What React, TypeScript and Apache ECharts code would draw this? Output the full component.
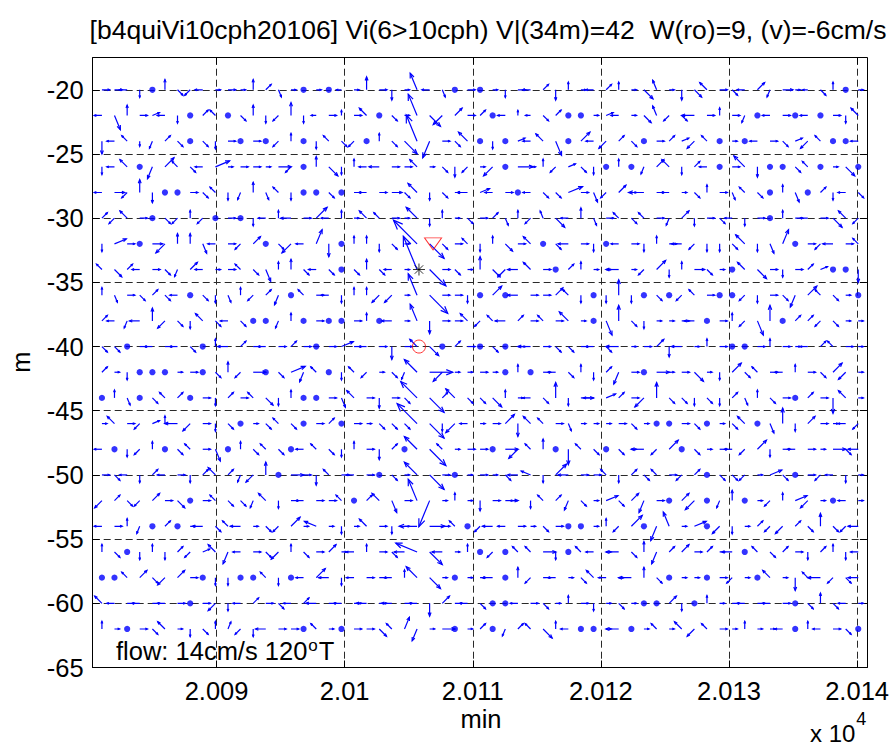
import React, { useEffect, useRef } from 'react';
import * as echarts from 'echarts';

// ---------- texts ----------
const TITLE_TEXT = '[b4quiVi10cph20106] Vi(6>10cph) V|(34m)=42  W(ro)=9, (v)=-6cm/s';
const X_LABEL = 'min';
const Y_LABEL = 'm';
const X_EXP_BASE = 'x 10';
const X_EXP = '4';
const FLOW_TEXT = 'flow: 14cm/s 120';
const FLOW_SUP = 'o';
const FLOW_END = 'T';

// ---------- axes ----------
const xRange = [20080.33, 20140.76];
const yRange = [-65, -17.5];
const xTickValues = [20090, 20100, 20110, 20120, 20130, 20140];
const yTickValues = [-65, -60, -55, -50, -45, -40, -35, -30, -25, -20];

// ---------- sampling grid ----------
const sampleTimes = [
  20081.05, 20082.03, 20083.02, 20084.0, 20084.99, 20085.97, 20086.95, 20087.94, 20088.92, 20089.91,
  20090.89, 20091.87, 20092.86, 20093.84, 20094.83, 20095.81, 20096.79, 20097.78, 20098.76, 20099.75,
  20100.73, 20101.71, 20102.7, 20103.68, 20104.67, 20105.65, 20106.63, 20107.62, 20108.6, 20109.59,
  20110.57, 20111.55, 20112.54, 20113.52, 20114.51, 20115.49, 20116.47, 20117.46, 20118.44, 20119.43,
  20120.41, 20121.39, 20122.38, 20123.36, 20124.35, 20125.33, 20126.31, 20127.3, 20128.28, 20129.27,
  20130.25, 20131.23, 20132.22, 20133.2, 20134.19, 20135.17, 20136.15, 20137.14, 20138.12, 20139.11,
  20140.09,
];
const depths = [-20, -22, -24, -26, -28, -30, -32, -34, -36, -38, -40, -42, -44, -46, -48, -50, -52, -54, -56, -58, -60, -62];

// Each token: first char = direction (hex, 22.5 deg steps clockwise from north),
// second char = length class (base 36); ".." = still point (dot).
// Arrow length in data units = (class + 1) * LEN_UNIT.
const LEN_UNIT = 0.2;
const rowCodes = [
  '42 42 c2 82 .. 03 62 a2 c2 41 42 41 03 22 72 41 .. 41 .. c1 41 04 42 83 41 f6 c2 72 .. 42 .. 41 82 42 c2 22 83 02 41 c2 22 02 41 64 f3 41 83 63 e3 42 62 c2 23 92 43 41 c1 62 02 .. 41',
  'c2 75 03 42 32 c2 82 .. 22 e2 .. 62 03 82 a2 04 82 c1 42 01 42 e3 .. 62 41 f8 65 a4 23 42 22 .. c2 01 c1 62 22 .. .. 41 32 c2 41 63 f3 a2 62 c4 42 02 42 92 .. c2 42 .. c2 .. 42 82 e3',
  '84 c2 e2 81 92 22 62 .. 62 82 42 .. 42 .. a2 02 .. 82 e2 62 a2 .. 02 62 66 fa 96 42 62 e4 .. 82 .. 32 c2 e3 75 .. 24 c2 a3 22 62 .. 42 22 32 a3 e2 .. 41 .. c2 42 62 32 a3 e2 .. .. c2',
  '82 c2 e3 .. 94 24 e2 62 c2 35 41 42 42 41 44 a2 .. 03 64 82 02 c2 c3 42 42 e3 41 62 83 a2 41 a4 .. 45 41 02 a2 32 62 82 .. 02 .. 92 23 e3 82 22 c2 .. 42 e5 83 .. .. 62 e2 .. 41 64 ..',
  'c2 43 a2 04 83 .. .. 42 62 e2 82 92 03 72 e2 82 .. .. 62 .. 42 c2 42 43 62 e4 82 62 41 c3 33 c2 42 .. c2 62 62 35 42 73 a2 23 41 c5 42 c2 41 62 02 42 72 e2 62 .. 02 73 .. 22 82 c2 62',
  '22 a2 e3 42 .. 62 a2 02 a2 .. 42 .. 82 c2 02 c3 42 25 c2 02 41 e3 e2 42 41 e5 82 02 41 62 42 22 72 02 a2 f2 64 c2 03 72 42 e2 62 e2 42 92 23 82 42 62 c2 82 42 .. 02 42 c2 42 64 e3 a2',
  '82 34 42 .. 43 a4 03 03 73 c2 42 a2 23 .. 62 a4 c2 15 84 .. 02 02 82 62 41 ec 67 62 42 e2 82 02 63 42 e3 .. 62 c3 42 82 .. c2 42 82 02 42 c3 a2 82 82 62 e4 82 73 15 .. 42 a2 c3 42 e2',
  'e2 63 22 c2 42 62 92 23 c2 41 42 e2 62 74 02 03 62 c2 62 .. 62 03 62 c2 41 fd 68 42 62 41 04 63 a3 c3 e3 42 .. 22 02 41 41 c4 41 a2 24 82 02 43 62 41 .. e3 64 42 82 42 22 32 .. .. 84',
  '02 72 42 62 22 62 c2 .. 62 82 72 02 a2 22 93 .. e2 42 c2 82 02 02 a3 a3 41 f8 69 42 42 82 .. 24 .. c3 42 42 23 e2 82 .. 82 05 82 .. 62 .. a2 e2 42 .. .. a2 82 42 62 94 24 e2 62 41 ..',
  '22 c2 92 c3 04 a3 62 82 e3 62 c2 62 .. .. 92 02 .. 42 .. .. 42 02 .. c3 41 f6 84 42 42 e3 a2 e2 c3 22 42 e2 42 e4 41 .. 75 05 62 82 41 41 42 c3 .. 42 02 a2 75 05 .. 22 22 a2 62 41 41',
  '62 62 .. 42 c2 42 c2 62 .. 02 c3 22 42 c2 42 22 42 .. 42 34 42 c2 42 84 42 e3 64 .. 22 42 .. 62 .. 42 c4 42 62 62 42 c2 62 c4 41 42 23 83 c3 41 02 42 .. .. 42 02 42 41 c2 22 e2 42 41',
  '22 41 82 .. .. .. 41 42 .. 62 03 a2 44 .. 62 35 93 e2 .. 82 e2 a2 41 62 92 e6 48 a4 41 41 42 41 .. 02 .. 42 c2 62 02 82 22 94 42 .. 44 41 42 64 41 82 24 62 e2 42 c2 02 42 62 24 a3 41',
  '.. 02 72 .. 62 e2 22 .. 42 82 22 42 e2 63 82 02 .. .. 42 73 e3 42 83 42 62 e8 67 22 e4 62 62 64 02 41 c2 62 05 82 44 c3 33 22 42 a4 05 62 62 82 62 82 22 72 02 62 42 .. 22 42 85 e3 41',
  '41 e3 42 a2 32 02 c4 a3 42 82 62 .. 41 62 e2 62 .. 42 22 .. 42 41 62 62 62 ea 67 82 a4 c2 41 42 24 84 e3 e2 42 72 41 41 41 42 62 41 .. .. 42 62 .. 41 62 e3 .. 73 05 82 23 42 41 c2 a2',
  'c2 .. 82 a2 02 .. 62 e2 42 74 .. 02 62 e2 62 .. c2 e2 62 82 02 42 83 22 .. e6 68 e2 41 42 42 .. 44 a4 e2 03 .. 85 e2 62 .. 62 41 c4 a2 24 .. 62 41 42 c2 a2 24 82 42 c2 42 41 44 62 c3',
  '42 62 c2 82 22 c2 42 82 22 e3 22 92 a3 04 .. 44 42 83 e2 42 c2 42 .. 62 41 e6 67 42 .. 41 42 41 62 c3 d3 82 25 c3 42 42 e2 82 22 62 e2 42 a2 22 .. 62 62 a2 41 34 62 .. 42 a2 c2 82 41',
  'a3 22 62 a2 23 42 63 .. 42 e2 62 62 92 e3 82 42 c2 42 42 e2 .. 22 e3 74 42 f8 9a 41 02 41 83 42 44 c2 82 e2 22 93 62 41 34 62 23 94 42 .. 23 a4 .. 92 03 .. 41 a2 02 34 a3 41 .. c2 41',
  'c2 42 02 92 .. 22 .. 41 c3 62 e2 c3 41 62 a2 24 41 d4 41 82 41 e3 42 82 41 c6 45 42 e2 .. a2 c3 c2 42 41 62 42 .. .. 41 02 a2 25 .. 95 f5 41 34 .. a3 82 41 22 a2 a3 22 62 04 62 a2 c3',
  '02 62 .. 82 02 82 22 a2 32 e3 94 c2 42 62 a3 02 62 42 23 41 c2 02 42 62 c3 d8 66 c3 41 02 .. a2 .. e2 e2 44 82 .. e2 c2 41 c4 62 03 94 22 23 42 22 41 c3 .. e2 62 22 42 82 22 02 82 c2',
  '.. .. e2 23 62 a3 23 42 .. 82 82 .. .. e2 82 .. c2 24 c3 82 c2 42 42 c2 02 e5 65 41 .. 41 41 c3 .. 03 a2 42 c2 41 62 e3 c2 41 c4 03 62 .. 41 41 .. 42 a2 41 .. e3 41 84 e2 c4 a2 62 c3',
  'e3 c2 42 c2 42 c2 42 .. 42 a3 82 c2 22 42 62 c2 22 c3 42 c2 42 c3 42 c3 42 c2 84 23 42 c2 62 .. .. c2 42 62 41 02 42 82 41 62 41 .. .. 23 82 .. 02 41 42 c2 42 c2 42 .. 62 03 62 c2 41',
  '02 41 .. 42 62 e3 41 82 62 02 12 a2 82 c3 42 42 .. e2 41 .. 42 42 63 e2 14 94 41 44 .. 41 22 .. 92 22 e2 64 02 c2 .. .. 41 c4 .. 41 e2 41 e3 a3 e2 42 41 02 41 41 c2 .. 02 c2 42 62 ..',
];

// ---------- special markers ----------
const triangleMarker = [[20106.9, -32]];
const starMarker = [[20105.8, -34]];
const circleMarker = [[20105.8, -40]];

const FONT = '"Liberation Sans", Arial, Helvetica, sans-serif';
const BLUE = '#0000ff';

function decodeField() {
  const arrows: number[][] = [];
  const dots: number[][] = [];
  rowCodes.forEach((row, j) => {
    const toks = row.trim().split(/\s+/);
    toks.forEach((t, k) => {
      if (k >= sampleTimes.length) return;
      const x = sampleTimes[k];
      const y = depths[j];
      if (t === '..') {
        dots.push([x, y]);
        return;
      }
      const dir = (parseInt(t[0], 16) * 22.5 * Math.PI) / 180;
      const len = (parseInt(t[1], 36) + 1) * LEN_UNIT;
      arrows.push([x, y, len * Math.sin(dir), len * Math.cos(dir)]);
    });
  });
  return { arrows, dots };
}

function measure(text: string, size: number) {
  const ctx = document.createElement('canvas').getContext('2d');
  if (!ctx) return text.length * size * 0.5;
  ctx.font = `${size}px ${FONT}`;
  return ctx.measureText(text).width;
}

function txt(text: string, x: number, y: number, size: number, align: string, extra: any = {}) {
  return {
    type: 'text',
    x,
    y,
    silent: true,
    ...extra,
    style: {
      text,
      fill: '#000',
      fontSize: size,
      fontFamily: FONT,
      align,
      textAlign: align,
      verticalAlign: 'middle',
      textVerticalAlign: 'middle',
    },
  };
}

export default function App() {
  const ref = useRef<HTMLDivElement>(null);

  useEffect(() => {
    if (!ref.current) return;
    const chart = echarts.init(ref.current, null, { renderer: 'svg' });
    const { arrows, dots } = decodeField();

    const flowX = 116;
    const flowW = measure(FLOW_TEXT, 25.5);
    const supW = measure(FLOW_SUP, 17);
    const expW = measure(X_EXP_BASE, 24);

    const axisCommon = {
      type: 'value',
      axisLine: { show: true, onZero: false, lineStyle: { color: '#000', width: 1 } },
      axisTick: { show: true, inside: true, length: 7, lineStyle: { color: '#000', width: 1 } },
    };

    const option: any = {
      animation: false,
      backgroundColor: '#fff',
      grid: { left: 92.7, top: 57.7, width: 776.6, height: 609.8 },
      xAxis: [
        {
          ...axisCommon,
          position: 'bottom',
          min: xRange[0],
          max: xRange[1],
          axisTick: { ...axisCommon.axisTick, customValues: xTickValues },
          axisLabel: {
            customValues: xTickValues,
            formatter: (v: number) => String(parseFloat((v / 1e4).toFixed(4))),
            fontSize: 25.5,
            fontFamily: FONT,
            color: '#000',
            margin: 10,
          },
          splitLine: { show: true, lineStyle: { type: [7, 4], color: '#2a2a2a', width: 1 } },
        },
        {
          ...axisCommon,
          position: 'top',
          min: xRange[0],
          max: xRange[1],
          axisTick: { ...axisCommon.axisTick, customValues: xTickValues },
          axisLabel: { show: false, customValues: xTickValues },
          splitLine: { show: false },
        },
      ],
      yAxis: [
        {
          ...axisCommon,
          position: 'left',
          min: yRange[0],
          max: yRange[1],
          axisTick: { ...axisCommon.axisTick, customValues: yTickValues },
          axisLabel: {
            customValues: yTickValues,
            fontSize: 25.5,
            fontFamily: FONT,
            color: '#000',
            margin: 9,
          },
          splitLine: { show: true, lineStyle: { type: [7, 4], color: '#2a2a2a', width: 1 } },
        },
        {
          ...axisCommon,
          position: 'right',
          min: yRange[0],
          max: yRange[1],
          axisTick: { ...axisCommon.axisTick, customValues: yTickValues },
          axisLabel: { show: false, customValues: yTickValues },
          splitLine: { show: false },
        },
      ],
      series: [
        {
          type: 'custom',
          xAxisIndex: 0,
          yAxisIndex: 0,
          clip: true,
          silent: true,
          data: arrows,
          encode: { x: 0, y: 1 },
          renderItem: (params: any, api: any) => {
            const x = api.value(0);
            const y = api.value(1);
            const dx = api.value(2);
            const dy = api.value(3);
            const p0 = api.coord([x, y]);
            const p1 = api.coord([x + dx, y + dy]);
            const vx = p1[0] - p0[0];
            const vy = p1[1] - p0[1];
            const len = Math.hypot(vx, vy) || 1;
            const ux = vx / len;
            const uy = vy / len;
            const h = Math.max(2.2, len * 0.3);
            const a = (22 * Math.PI) / 180;
            const c = Math.cos(a);
            const s = Math.sin(a);
            const h1 = [p1[0] - h * (ux * c - uy * s), p1[1] - h * (ux * s + uy * c)];
            const h2 = [p1[0] - h * (ux * c + uy * s), p1[1] - h * (-ux * s + uy * c)];
            const st = { stroke: BLUE, lineWidth: 1.2, fill: null };
            return {
              type: 'group',
              children: [
                { type: 'line', shape: { x1: p0[0], y1: p0[1], x2: p1[0], y2: p1[1] }, style: st },
                { type: 'polyline', shape: { points: [h1, p1, h2] }, style: st },
              ],
            };
          },
        },
        {
          type: 'scatter',
          data: dots,
          symbol: 'circle',
          symbolSize: 6.2,
          itemStyle: { color: BLUE },
          silent: true,
        },
        {
          type: 'scatter',
          data: triangleMarker,
          symbol: 'path://M0,0L17,0L8.5,12Z',
          symbolSize: [17, 12],
          itemStyle: { color: 'rgba(0,0,0,0)', borderColor: '#ff0000', borderWidth: 1 },
          silent: true,
        },
        {
          type: 'scatter',
          data: circleMarker,
          symbol: 'circle',
          symbolSize: 13,
          itemStyle: { color: 'rgba(0,0,0,0)', borderColor: '#ff0000', borderWidth: 1 },
          silent: true,
        },
        {
          type: 'scatter',
          data: starMarker,
          symbol: 'path://M6,0L6,12M0,6L12,6M1.8,1.8L10.2,10.2M1.8,10.2L10.2,1.8',
          symbolSize: 12,
          itemStyle: { color: 'rgba(0,0,0,0)', borderColor: '#000', borderWidth: 1 },
          silent: true,
        },
      ],
      graphic: [
        txt(TITLE_TEXT, 488, 29.5, 26.5, 'center'),
        txt(X_LABEL, 481, 719, 25.5, 'center'),
        txt(Y_LABEL, 21, 362, 25.5, 'center', { rotation: Math.PI / 2 }),
        txt(X_EXP_BASE, 810, 733, 24, 'left'),
        txt(X_EXP, 810 + expW + 1, 719, 18, 'left'),
        txt(FLOW_TEXT, flowX, 651, 25.5, 'left'),
        txt(FLOW_SUP, flowX + flowW + 1, 645, 17, 'left'),
        txt(FLOW_END, flowX + flowW + supW + 2, 651, 25.5, 'left'),
      ],
    };

    chart.setOption(option);
    return () => chart.dispose();
  }, []);

  return <div ref={ref} style={{ position: 'absolute', left: 0, top: 0, width: 892, height: 747 }} />;
}
